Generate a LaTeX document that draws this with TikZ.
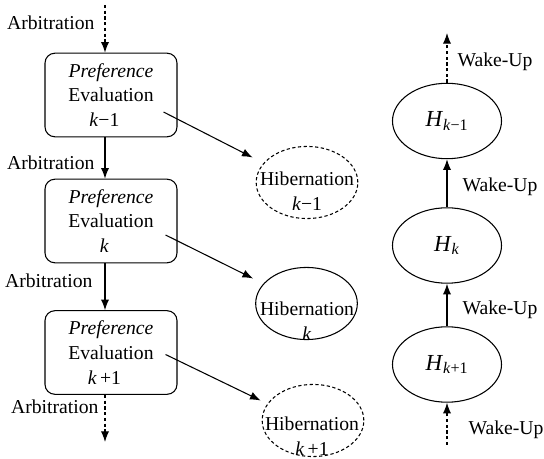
\documentclass[tikz,border=0pt,12pt]{standalone}
\usepackage{fontspec}
\setmainfont{Liberation Serif}
\usetikzlibrary{positioning,calc,shapes.geometric,arrows.meta}

\newcommand{\kk}{\textit{k}}
\newcommand{\hsub}[1]{\textit{H}\textsubscript{\kk#1}}

\tikzset{
    prefbox/.style={rectangle, draw, rounded corners=6pt, minimum width=80.5pt, minimum height=51pt, align=center},
    hibnode/.style={ellipse, draw, minimum width=62pt, minimum height=44pt, inner sep=0pt},
    hibtext/.style={align=center, inner sep=0pt, font=\fontsize{12}{15}\selectfont},
    hnode/.style={ellipse, draw, minimum width=66.5pt, minimum height=46pt, font=\fontsize{14}{16}\selectfont},
    sidelabel/.style={inner sep=0pt},
    dashedline/.style={dash pattern=on 2pt off 1.5pt}
}

\begin{document}
\begin{tikzpicture}[x=0.61pt, y=-0.61pt, font=\fontsize{12}{15}\selectfont, line width=0.65pt, >={Latex[length=6.5pt,width=5pt]}]
    \useasboundingbox (0,0) rectangle (544,459);
    % Nodes
    \node (pe1) [prefbox] at (111,95) {\textit{Preference}\\Evaluation\\\kk−1\hspace*{8pt}};
    \node (pe2) [prefbox] at (111,221) {\textit{Preference}\\Evaluation\\\kk\hspace*{8pt}};
    \node (pe3) [prefbox] at (111,352.5) {\textit{Preference}\\Evaluation\\\kk\,+1\hspace*{8pt}};

    \node (hib1) [hibnode, dashedline] at (307,182.5) {};
    \node (hib2) [hibnode] at (306.5,303.5) {};
    \node (hib3) [hibnode, dashedline] at (313,420.5) {};
    \node (hib1txt) [hibtext] at (307,191) {Hibernation\\\kk−1};
    \node (hib2txt) [hibtext] at (307,321) {Hibernation\\\kk};
    \node (hib3txt) [hibtext] at (312,436) {Hibernation\\\kk\,+1};

    \node (h1) [hnode] at (447,121) {\hsub{−1}};
    \node (h2) [hnode] at (447,245.5) {\hsub{}};
    \node (h3) [hnode] at (447,364.5) {\hsub{+1}};

    \coordinate (arbin) at (105,5);
    \coordinate (arbout) at (105,442);
    \coordinate (wakein) at (447,445);
    \coordinate (wakeout) at (447,33);

    % Labels
    \node (arb1) [sidelabel, anchor=east] at (95,23) {Arbitration};
    \node (arb2) [sidelabel, anchor=east] at (95,163) {Arbitration};
    \node (arb3) [sidelabel, anchor=east] at (93,281) {Arbitration};
    \node (arb4) [sidelabel, anchor=east] at (99,407) {Arbitration};
    \node (wake1) [sidelabel, anchor=west] at (457,62) {Wake-Up};
    \node (wake2) [sidelabel, anchor=west] at (462,187) {Wake-Up};
    \node (wake3) [sidelabel, anchor=west] at (462,310) {Wake-Up};
    \node (wake4) [sidelabel, anchor=west] at (468,430) {Wake-Up};

    % Arrows
    \draw [->, dashedline] (arbin) -- ($(pe1.north)+(-6,0)$);
    \draw [->] ($(pe1.south)+(-6,0)$) -- ($(pe2.north)+(-6,0)$);
    \draw [->] ($(pe2.south)+(-6,0)$) -- ($(pe3.north)+(-6,0)$);
    \draw [->, dashedline] ($(pe3.south)+(-6,0)$) -- (arbout);

    \draw [->] ($(pe1.east)+(-14,17)$) -- ($(hib1.west)+(-3,-25)$);
    \draw [->] ($(pe2.east)+(-12,14)$) -- ($(hib2.west)+(-2,-25)$);
    \draw [->] ($(pe3.east)+(-12,2)$) -- ($(hib3.west)+(-1,-20)$);

    \draw [->, dashedline] (wakein) -- (h3);
    \draw [->] (h3) -- (h2);
    \draw [->] (h2) -- (h1);
    \draw [->, dashedline] (h1) -- (wakeout);
\end{tikzpicture}
\end{document}
